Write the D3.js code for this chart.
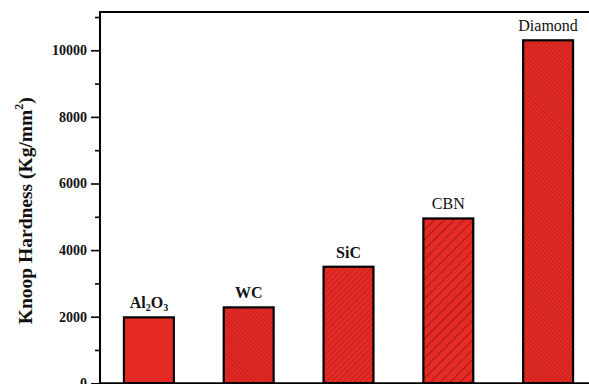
<!DOCTYPE html>
<html>
<head>
<meta charset="utf-8">
<script src="https://cdn.jsdelivr.net/npm/d3@7"></script>
<style>
  html, body { margin: 0; padding: 0; background: #fff; }
  svg { display: block; }
  text { font-family: "Liberation Serif", "Times New Roman", serif; }
</style>
</head>
<body>
<svg id="chart" width="589" height="384"></svg>
<script>
// Knoop hardness of common abrasive / tool materials
const materials = ["Al2O3", "WC", "SiC", "CBN", "Diamond"];
const hardness = [1980, 2280, 3500, 4950, 10300];
// hatch style per bar: null = solid fill; angle of hatch lines
const hatchAngles = [null, 45, -45, -45, 45];
const hatchSpacing = [0, 3, 4, 7, 3];
const yTicks = [0, 2000, 4000, 6000, 8000, 10000];
const yMinorTicks = [1000, 3000, 5000, 7000, 9000, 11000];

const svg = d3.select("#chart");
const plotLeft = 100, plotTop = 12, plotRight = 600, plotBottom = 383.3;

const x = d3.scaleBand().domain(materials).range([99, 598])
  .paddingInner(0.5).paddingOuter(0.25);
const y = d3.scaleLinear().domain([0, 11150]).range([plotBottom, plotTop]);

const fillRed = "#e52b24";
const hatchRed = "#a8191a";

// hatch patterns
const defs = svg.append("defs");
materials.forEach((m, i) => {
  if (hatchAngles[i] === null) return;
  const s = hatchSpacing[i];
  const p = defs.append("pattern")
    .attr("id", "hatch" + i)
    .attr("patternUnits", "userSpaceOnUse")
    .attr("width", s).attr("height", s)
    .attr("patternTransform", `rotate(${hatchAngles[i]})`);
  p.append("rect").attr("width", s).attr("height", s).attr("fill", fillRed);
  p.append("line").attr("x1", 0).attr("y1", 0).attr("x2", s).attr("y2", 0)
    .attr("stroke", hatchRed).attr("stroke-width", s > 5 ? 2.2 : 1.2);
});

// bars
svg.append("g").selectAll("rect")
  .data(materials)
  .join("rect")
  .attr("x", d => x(d))
  .attr("y", (d, i) => y(hardness[i]))
  .attr("width", x.bandwidth())
  .attr("height", (d, i) => y(0) - y(hardness[i]))
  .attr("fill", (d, i) => hatchAngles[i] === null ? fillRed : `url(#hatch${i})`)
  .attr("stroke", "#000")
  .attr("stroke-width", 2.2);

// bar labels
const boldLabel = [true, true, true, false, false];
const labels = svg.append("g");
materials.forEach((m, i) => {
  const t = labels.append("text")
    .attr("x", x(m) + x.bandwidth() / 2)
    .attr("y", y(hardness[i]) - 9)
    .attr("text-anchor", "middle")
    .attr("font-size", 16)
    .attr("font-weight", boldLabel[i] ? "bold" : "normal")
    .attr("fill", "#111");
  if (m === "Al2O3") {
    t.append("tspan").text("Al");
    t.append("tspan").text("2").attr("font-size", 10).attr("dy", 3);
    t.append("tspan").text("O").attr("dy", -3);
    t.append("tspan").text("3").attr("font-size", 10).attr("dy", 3);
  } else {
    t.text(m);
  }
});

// frame
svg.append("path")
  .attr("d", `M${plotLeft},${plotBottom}V${plotTop}H${plotRight}`)
  .attr("fill", "none").attr("stroke", "#000").attr("stroke-width", 2);
svg.append("line")
  .attr("x1", plotLeft).attr("x2", plotRight).attr("y1", plotBottom).attr("y2", plotBottom)
  .attr("stroke", "#000").attr("stroke-width", 2);

// y axis
const yAxis = d3.axisLeft(y).tickValues(yTicks).tickSize(9).tickPadding(4)
  .tickFormat(d3.format("d"));
const ya = svg.append("g").attr("transform", `translate(${plotLeft},0)`).call(yAxis);
ya.select(".domain").remove();
ya.selectAll(".tick line").attr("stroke", "#000").attr("stroke-width", 1.6);
ya.selectAll(".tick text")
  .attr("font-family", "Liberation Serif, serif")
  .attr("font-size", 14).attr("font-weight", "bold").attr("fill", "#111");

const yMinor = d3.axisLeft(y).tickValues(yMinorTicks).tickSize(5).tickFormat("");
const ym = svg.append("g").attr("transform", `translate(${plotLeft},0)`).call(yMinor);
ym.select(".domain").remove();
ym.selectAll(".tick line").attr("stroke", "#000").attr("stroke-width", 1.6);

// y axis title
const title = svg.append("text")
  .attr("transform", `translate(32,${(plotTop + plotBottom) / 2 + 13}) rotate(-90)`)
  .attr("text-anchor", "middle")
  .attr("font-size", 19.5).attr("font-weight", "bold").attr("fill", "#111");
title.append("tspan").text("Knoop Hardness (Kg/mm");
title.append("tspan").text("2").attr("font-size", 12).attr("dy", -9);
title.append("tspan").text(")").attr("dy", 9);
</script>
</body>
</html>
